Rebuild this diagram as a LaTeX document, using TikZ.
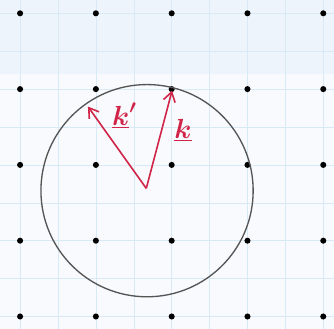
\documentclass[tikz,border=0pt]{standalone}
\usetikzlibrary{arrows.meta}

\definecolor{papir}{RGB}{248,250,253}
\definecolor{traka}{RGB}{238,244,251}
\definecolor{mreza}{RGB}{216,234,245}
\definecolor{olovka}{RGB}{85,85,85}
\definecolor{crvena}{RGB}{208,36,72}

\tikzset{
  tocka/.style={fill=black},
  vektor/.style={crvena,line width=1.2pt,-{Straight Barb[length=7pt,width=9pt]}},
  oznaka/.style={crvena,font=\fontsize{22}{24}\selectfont\boldmath}
}

\begin{document}
\begin{tikzpicture}
\useasboundingbox (-0.53,-0.33) rectangle (8.283,8.351);
\fill[papir] (-0.53,-0.33) rectangle (8.283,8.351);
\fill[traka] (-0.53,6.4) rectangle (8.283,8.351);
\draw[mreza,line width=0.4pt] (-0.53,-0.33) grid (8.283,8.351);

% tocke resetke
\fill[tocka] (0,8) circle (0.08);
\fill[tocka] (2,8) circle (0.08);
\fill[tocka] (4,8) circle (0.08);
\fill[tocka] (6,8) circle (0.08);
\fill[tocka] (8,8) circle (0.08);

\fill[tocka] (0,6) circle (0.08);
\fill[tocka] (2,6) circle (0.08);
\fill[tocka] (4,6) circle (0.08);
\fill[tocka] (6,6) circle (0.08);
\fill[tocka] (8,6) circle (0.08);

\fill[tocka] (0,4) circle (0.08);
\fill[tocka] (2,4) circle (0.08);
\fill[tocka] (4,4) circle (0.08);
\fill[tocka] (6,4) circle (0.08);
\fill[tocka] (8,4) circle (0.08);

\fill[tocka] (0,2) circle (0.08);
\fill[tocka] (2,2) circle (0.08);
\fill[tocka] (4,2) circle (0.08);
\fill[tocka] (6,2) circle (0.08);
\fill[tocka] (8,2) circle (0.08);

\fill[tocka] (0,0) circle (0.08);
\fill[tocka] (2,0) circle (0.08);
\fill[tocka] (4,0) circle (0.08);
\fill[tocka] (6,0) circle (0.08);
\fill[tocka] (8,0) circle (0.08);

% Ewaldova kruznica
\draw[olovka,line width=1pt] (3.35,3.32) circle (2.8);

\coordinate (ishodiste) at (3.33,3.38);
\coordinate (kvrh) at (4.01,5.96);
\coordinate (kcrtavrh) at (1.79,5.54);

\draw[vektor] (ishodiste) -- (kvrh);
\draw[vektor] (ishodiste) -- (kcrtavrh);

\node[oznaka] (kcrta) at (2.75,5.3) {$\underline{k}'$};
\node[oznaka] (k) at (4.3,4.92) {$\underline{k}$};
\end{tikzpicture}
\end{document}
